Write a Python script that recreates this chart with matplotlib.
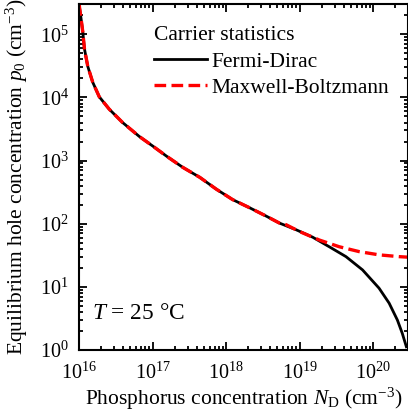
import matplotlib
matplotlib.use("Agg")
import matplotlib.pyplot as plt

# Fermi-Dirac curve
nd_fd = [1.0e16, 1.01e16, 1.064e16, 1.12e16, 1.18e16, 1.31e16, 1.53e16, 1.88e16,
         2.57e16, 3.9e16, 6.6e16, 1.0e17, 1.55e17, 2.57e17, 4.4e17, 7.4e17,
         1.23e18, 2.1e18, 3.5e18, 5.33e18, 8.98e18, 1.51e19, 2.54e19, 4.29e19,
         7.21e19, 1.21e20, 1.66e20, 2.15e20, 2.51e20, 2.85e20]
p_fd = [3.0e5, 2.7e5, 1.74e5, 1.1e5, 5.9e4, 3.1e4, 1.74e4, 1.02e4,
        6.5e3, 4.0e3, 2.4e3, 1.7e3, 1.17e3, 780, 540, 350,
        240, 178, 132, 102, 80, 61, 43, 30,
        18.5, 9.5, 5.5, 2.97, 1.82, 1.12]

# Maxwell-Boltzmann curve
nd_mb = [1.0e16, 1.01e16, 1.064e16, 1.12e16, 1.18e16, 1.31e16, 1.53e16, 1.88e16,
         2.57e16, 3.9e16, 6.6e16, 1.0e17, 1.55e17, 2.57e17, 4.4e17, 7.4e17,
         1.23e18, 2.1e18, 3.5e18, 5.33e18, 6.58e18, 9.98e18, 1.86e19, 3.48e19,
         6.5e19, 1.21e20, 2.26e20, 3.0e20]
p_mb = [3.0e5, 2.7e5, 1.74e5, 1.1e5, 5.9e4, 3.1e4, 1.74e4, 1.02e4,
        6.5e3, 4.0e3, 2.4e3, 1.7e3, 1.17e3, 780, 540, 350,
        240, 178, 132, 102, 96, 75, 55, 43,
        36, 32, 30, 29.4]

plt.rcParams['font.family'] = ['Liberation Serif', 'DejaVu Serif']
plt.rcParams['mathtext.fontset'] = 'custom'
plt.rcParams['mathtext.rm'] = 'Liberation Serif'
plt.rcParams['mathtext.it'] = 'Liberation Serif:italic'
plt.rcParams['font.size'] = 15.5

fig = plt.figure(figsize=(4.08, 4.16), dpi=100)
ax = fig.add_axes([0.194, 0.159, 0.806, 0.831])

ax.plot(nd_fd, p_fd, color='black', lw=2.0, label='Fermi-Dirac')
ax.plot(nd_mb, p_mb, color='#ff0000', lw=2.4, ls=(0, (3.5, 1.6)), label='Maxwell-Boltzmann')

ax.set_xscale('log')
ax.set_yscale('log')
ax.set_xlim(1e16, 3e20)
ax.set_ylim(1, 3e5)

for s in ax.spines.values():
    s.set_linewidth(1.5)
ax.tick_params(which='both', direction='in', top=True, right=True, width=1.3,
               labelsize=14.5)
ax.tick_params(which='major', length=5.5)
ax.tick_params(which='minor', length=3)
ax.tick_params(axis='x', which='major', pad=9)
ax.tick_params(axis='y', which='major', pad=7.5)

ax.set_xlabel(r'Phosphorus concentration $N_\mathrm{D}$ (cm$^{-3}$)')
ax.set_ylabel(r'Equilibrium hole concentration $p_0$ (cm$^{-3}$)')
ax.xaxis.set_label_coords(0.5, -0.104)
ax.yaxis.set_label_coords(-0.148, 0.5)

ax.text(0.04, 0.09, r'$T$ = 25 °C', transform=ax.transAxes, fontsize=16.8)

leg = ax.legend(title='Carrier statistics', frameon=False, loc='upper left',
                bbox_to_anchor=(0.228, 0.938), handlelength=2.45, handletextpad=0.2,
                borderaxespad=0, borderpad=0, labelspacing=0.28,
                fontsize=15.5, title_fontsize=15.5)
leg._legend_box.align = 'left'
leg._legend_box.sep = 5

fig.savefig('out.png', dpi=100)
